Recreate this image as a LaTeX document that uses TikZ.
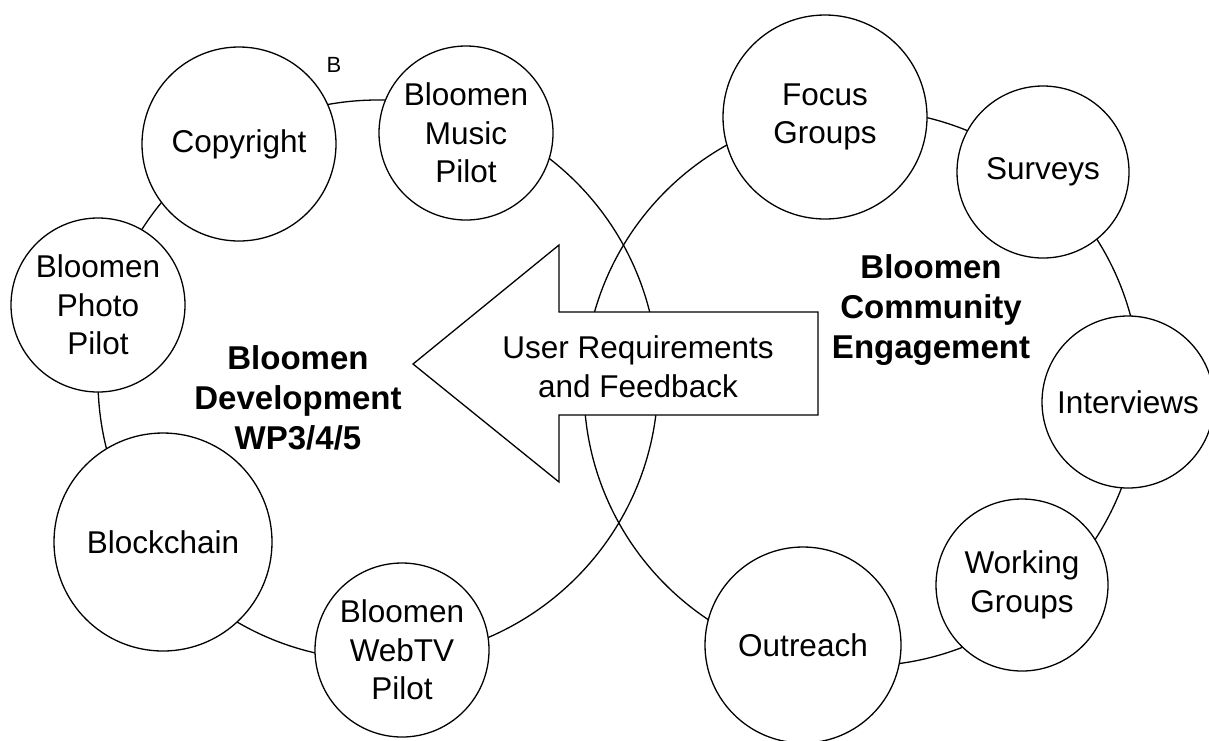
\documentclass[tikz,border=0pt]{standalone}
\usepackage{fontspec}
\setmainfont{Liberation Sans}
\begin{document}
\begin{tikzpicture}[x=1pt,y=-1pt,
  ring/.style={circle, draw, line width=1.3pt, inner sep=0pt},
  item/.style={circle, draw, fill=white, line width=1.3pt, inner sep=0pt,
    align=center, font=\fontsize{31.5}{38.5}\selectfont},
  heading/.style={align=center, font=\fontsize{33}{40}\selectfont\bfseries},
  bigarrow/.style={draw, fill=white, line width=1.3pt, line join=miter}]
\useasboundingbox (0,0) rectangle (1209,740);

% the two cycles
\node[ring, minimum size=560pt] (dev) at (378,380) {};
\node[ring, minimum size=556pt] (com) at (862,388) {};

% feedback arrow pointing from engagement to development
\coordinate (tip) at (413,364);
\coordinate (headtop) at (559,245);
\coordinate (headbot) at (559,482);
\coordinate (shafttl) at (559,312);
\coordinate (shafttr) at (818,312);
\coordinate (shaftbr) at (818,415);
\coordinate (shaftbl) at (559,415);
\path[bigarrow] (tip) -- (headtop) -- (shafttl) -- (shafttr) -- (shaftbr)
  -- (shaftbl) -- (headbot) -- cycle;
\node[align=center, font=\fontsize{31.5}{39}\selectfont] (fb) at (638,367)
  {User Requirements\\and Feedback};

% development cycle
\node[item, minimum size=194pt] (copy) at (239,144) {Copyright};
\node[item, minimum size=174pt] (music) at (466,133) {Bloomen\\Music\\Pilot};
\node[item, minimum size=174pt] (photo) at (98,305) {Bloomen\\Photo\\Pilot};
\node[item, minimum size=218pt] (chain) at (163,542) {Blockchain};
\node[item, minimum size=174pt] (webtv) at (402,650) {Bloomen\\WebTV\\Pilot};
\node[heading] (devtitle) at (298,398) {Bloomen\\Development\\WP3/4/5};
\node[font=\fontsize{22}{26}\selectfont] (blabel) at (334,65) {B};

% engagement cycle
\node[item, minimum size=204pt] (focus) at (825,117) {Focus\\Groups};
\node[item, minimum size=172pt] (surv) at (1043,172) {Surveys};
\node[item, minimum size=172pt] (inter) at (1128,402) {Interviews};
\node[item, minimum size=172pt] (work) at (1022,585) {Working\\Groups};
\node[item, minimum size=196pt] (out) at (803,645) {Outreach};
\node[heading] (comtitle) at (931,310) {Bloomen\\Community\\Engagement};
\end{tikzpicture}
\end{document}
